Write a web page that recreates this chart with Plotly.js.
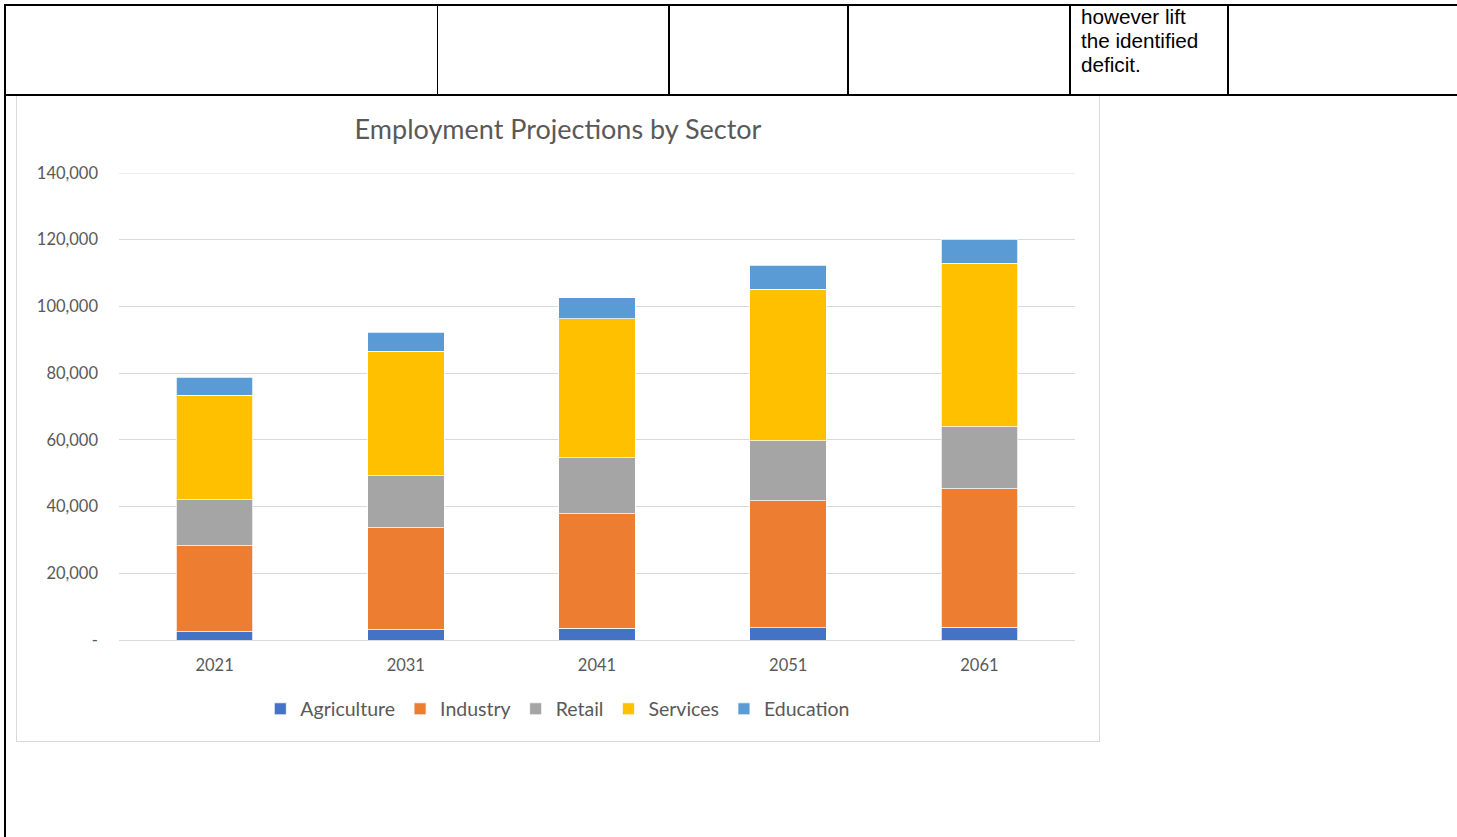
<!DOCTYPE html>
<html>
<head>
<meta charset="utf-8">
<script src="https://cdn.plot.ly/plotly-3.0.1.min.js"></script>
<style>
  html, body { margin: 0; padding: 0; background: #fff; width: 1457px; height: 837px; overflow: hidden; position: relative; }
  .ln { position: absolute; background: #000; z-index: 5; }
  #txt { position: absolute; left: 1081px; top: 5px; font-family: "Liberation Sans", Arial, sans-serif; font-size: 20.7px; line-height: 24px; color: #000; }
  #box { position: absolute; left: 16px; top: 95px; width: 1082px; height: 645px; border: 1px solid #d9d9d9; z-index: 1; }
  #chart { width: 1082px; height: 645px; }
</style>
</head>
<body>
<div class="ln" style="left:4px;top:4px;width:1453px;height:2px;"></div>
<div class="ln" style="left:4px;top:94px;width:1453px;height:2px;"></div>
<div class="ln" style="left:4px;top:4px;width:2px;height:833px;"></div>
<div class="ln" style="left:437px;top:4px;width:1px;height:91px;"></div>
<div class="ln" style="left:668px;top:4px;width:2px;height:91px;"></div>
<div class="ln" style="left:847px;top:4px;width:2px;height:91px;"></div>
<div class="ln" style="left:1069px;top:4px;width:2px;height:91px;"></div>
<div class="ln" style="left:1227px;top:4px;width:2px;height:91px;"></div>
<div id="txt">however lift<br>the identified<br>deficit.</div>
<div id="box"><div id="chart"></div></div>
<script>
const years = ['2021', '2031', '2041', '2051', '2061'];
const agriculture = [2500, 3100, 3500, 3700, 3800];
const industry = [25800, 30600, 34300, 38100, 41600];
const retail = [13800, 15600, 16800, 17900, 18500];
const services = [31300, 37300, 41700, 45500, 49000];
const education = [5400, 5700, 6300, 7100, 7300];
const tickVals = [0, 20000, 40000, 60000, 80000, 100000, 120000, 140000];
const tickText = ['-', '20,000', '40,000', '60,000', '80,000', '100,000', '120,000', '140,000'];

const seriesNames = ['Agriculture', 'Industry', 'Retail', 'Services', 'Education'];
const seriesData = [agriculture, industry, retail, services, education];
const colors = ['#4472c4', '#ed7d31', '#a5a5a5', '#ffc000', '#5b9bd5'];

const traces = seriesNames.map((n, i) => ({
  type: 'bar',
  name: n,
  x: years,
  y: seriesData[i],
  marker: { color: colors[i], line: { color: '#ffffff', width: 0.75 } },
  hoverinfo: 'x+y+name'
}));

const yMax = tickVals[tickVals.length - 1];
const font = "Lato, 'Open Sans', sans-serif";
const layout = {
  width: 1082, height: 645,
  margin: { l: 102, r: 24, t: 77, b: 101 },
  paper_bgcolor: '#ffffff', plot_bgcolor: '#ffffff',
  barmode: 'stack',
  bargap: 0.6,
  title: { text: 'Employment Projections by Sector', font: { family: font, size: 27, color: '#595959' }, x: 0.5, xanchor: 'center', y: 1 - 34/645, yanchor: 'middle' },
  xaxis: { type: 'category', tickfont: { family: font, size: 16.5, color: '#595959' }, showline: true, linecolor: '#d9d9d9', linewidth: 1, ticks: '', showgrid: false, ticklabelstandoff: 10, fixedrange: true },
  yaxis: { range: [0, yMax], tickvals: tickVals, ticktext: tickText, tickfont: { family: font, size: 16.5, color: '#595959' }, gridcolor: '#d9d9d9', gridwidth: 1, zeroline: false, showline: false, ticks: '', ticklabelstandoff: 20, fixedrange: true },
  shapes: [{ type: 'line', xref: 'paper', x0: 0, x1: 1, yref: 'y', y0: yMax, y1: yMax, line: { color: '#d9d9d9', width: 1 }, layer: 'below' }],
  legend: { orientation: 'h', x: 0.459, xanchor: 'center', y: -0.148, yanchor: 'middle', font: { family: font, size: 19.5, color: '#595959' }, traceorder: 'normal', itemwidth: 30, tracegroupgap: 0 },
  showlegend: true
};
Plotly.newPlot('chart', traces, layout, { displayModeBar: false, staticPlot: true });
</script>
</body>
</html>
